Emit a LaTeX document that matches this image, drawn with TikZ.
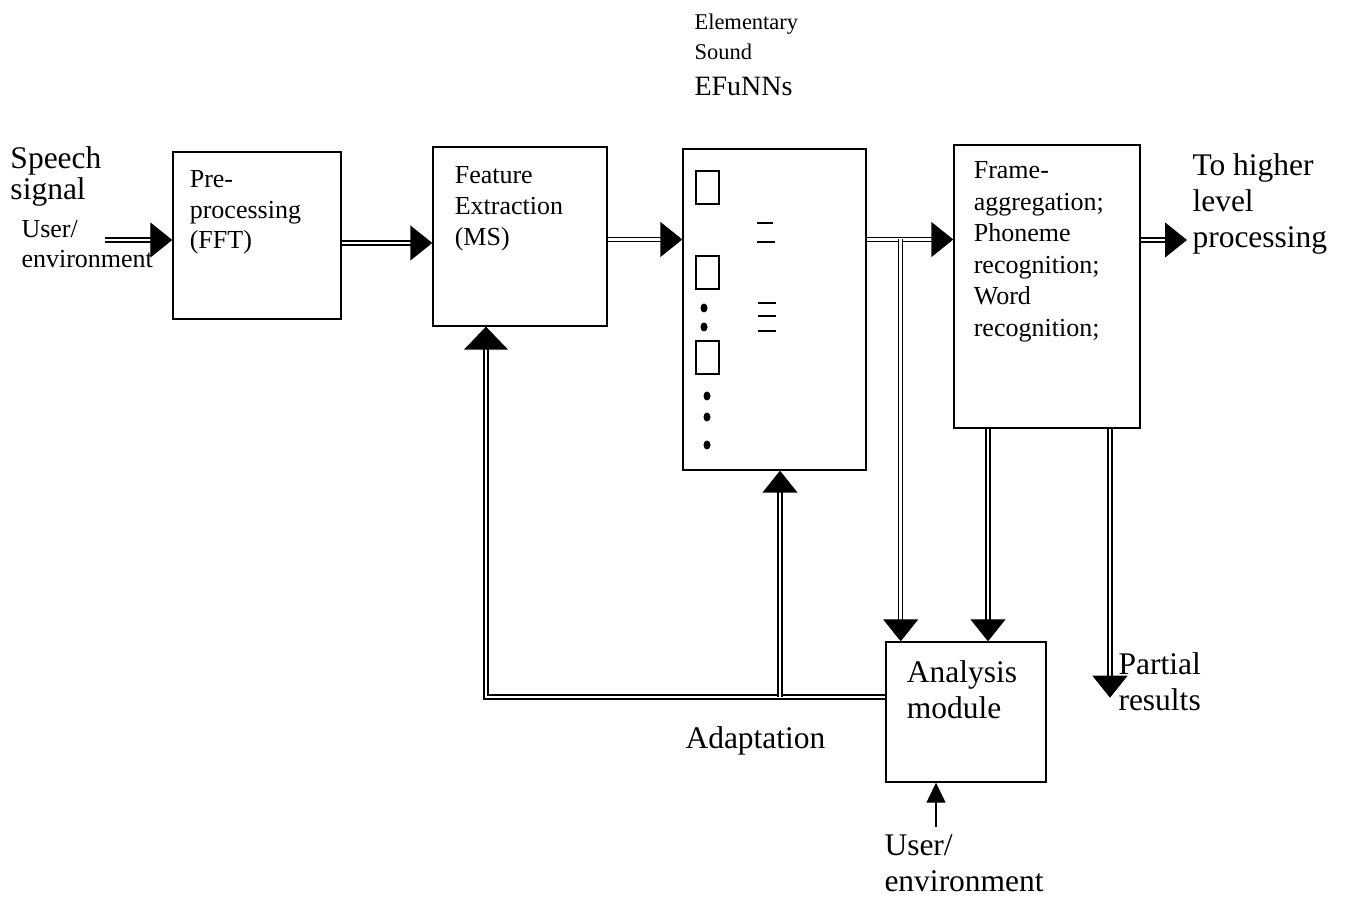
\documentclass[tikz,border=0pt]{standalone}
\usepackage{fontspec}
\setmainfont{Liberation Serif}
\usetikzlibrary{arrows.meta,calc,positioning}
\tikzset{
  blk/.style={draw, line width=0.55pt, inner sep=0pt},
  dbl/.style={double, double distance=1pt, line width=0.55pt, -{Triangle[length=8.8pt,width=14pt]}},
  thinarrow/.style={line width=0.5pt, -{Triangle[length=8pt,width=7.6pt]}},
  big/.style={inner sep=0pt, anchor=north west, align=left, font=\fontsize{12.6}{14.4}\selectfont},
  mid/.style={inner sep=0pt, anchor=north west, align=left, font=\fontsize{10.4}{12.2}\selectfont},
  sml/.style={inner sep=0pt, anchor=north west, align=left, font=\fontsize{9}{12}\selectfont},
}
\begin{document}
\begin{tikzpicture}[x=0.4pt,y=-0.4pt]
\useasboundingbox (0,0) rectangle (1347,897);
% blocks
\node[blk, minimum width=67.2pt, minimum height=66.8pt] (pre) at (257,235.5) {};
\node[blk, minimum width=69.6pt, minimum height=71.6pt] (fe) at (520,236.5) {};
\node[blk, minimum width=73.2pt, minimum height=128.4pt] (ef) at (774.5,309.5) {};
\node[blk, minimum width=74.4pt, minimum height=113.2pt] (fr) at (1047,286.5) {};
\node[blk, minimum width=64pt, minimum height=56pt] (ana) at (966,712) {};

\node[mid] at ([shift={(17,19)}]pre.north west) {Pre-\\processing\\(FFT)};
\node[mid, font=\fontsize{10.4}{12.4}\selectfont] at ([shift={(22,20)}]fe.north west) {Feature\\Extraction\\(MS)};
\node[mid, font=\fontsize{10.4}{12.6}\selectfont] at ([shift={(20,17)}]fr.north west) {Frame-\\aggregation;\\Phoneme\\recognition;\\Word\\recognition;};
\node[big] at ([shift={(21,18.5)}]ana.north west) {Analysis\\module};

% inside the EFuNNs block
\foreach \y in {171,256,341} \draw[line width=0.5pt] (696,\y) rectangle (719,\y+33);
\foreach \x/\y in {704/308,704/327,707/396,707/417,707/445} \fill (\x,\y) ellipse [x radius=1.4pt, y radius=1.8pt];
\foreach \x/\y/\w in {757/223/16,757/242/18,758/303/18,758/316/18,758/331/18} \draw[line width=0.55pt] (\x,\y) -- ++(\w,0);

% forward path
\coordinate (in) at (105,240);
\draw[dbl] (in) -- (in -| pre.west);
\coordinate (a1) at ($(pre.east)+(0,7.5)$);
\draw[dbl] (a1) -- (a1 -| fe.west);
\coordinate (a2) at ($(fe.east)+(0,3)$);
\draw[dbl] (a2) -- (a2 -| ef.west);
\coordinate (a3) at (ef.east |- a2);
\draw[dbl] (a3) -- (a3 -| fr.west);
\coordinate (a4) at ($(fr.east)+(0,-46.5)$);
\coordinate (out) at (1187,240);
\draw[dbl] (a4) -- (out);

% down to analysis and partial results
\coordinate (b1) at ($(a3)+(34,0)$);
\draw[dbl] (b1) -- (b1 |- ana.north);
\coordinate (b2) at ($(fr.south)+(-59,0)$);
\draw[dbl] (b2) -- (b2 |- ana.north);
\coordinate (b3) at ($(fr.south)+(63,0)$);
\coordinate (pr) at ($(b3)+(0,269)$);
\draw[dbl] (b3) -- (pr);

% adaptation feedback
\coordinate (fb) at ($(ana.west)+(0,-15)$);
\coordinate (fu) at ($(fe.south)+(-34,0)$);
\draw[dbl, -{Triangle[length=9.2pt,width=17.6pt]}] (fb) -| (fu);
\coordinate (eu) at ($(ef.south)+(5.5,0)$);
\draw[dbl] (eu |- fb) -- (eu);

\coordinate (us) at ($(ana.south)+(-30,44)$);
\draw[thinarrow] (us) -- (us |- ana.south);

% labels
\node[big, font=\fontsize{12.6}{12.4}\selectfont] at (10,146) {Speech\\signal};
\node[mid, font=\fontsize{10.4}{12}\selectfont] at (21,220) {User/\\environment};
\node[big] at (1192,153.5) {To higher\\level\\processing};
\node[sml] at (694,13) {Elementary\\Sound\\[2.5pt]{\fontsize{11.2}{13}\selectfont EFuNNs}};
\node[big] at ([shift={(8,-45.5)}]pr) {Partial\\results};
\node[big] at (685,726.5) {Adaptation};
\node[big] at ([shift={(-52,7.5)}]us) {User/\\environment};
\end{tikzpicture}
\end{document}
